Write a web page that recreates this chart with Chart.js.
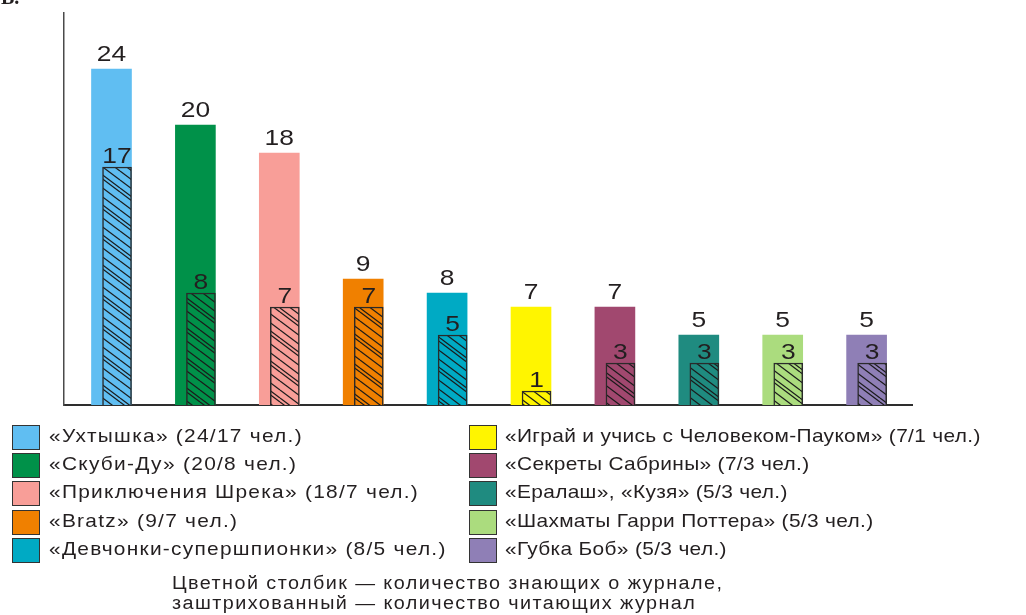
<!DOCTYPE html>
<html>
<head>
<meta charset="utf-8">
<script src="https://cdn.jsdelivr.net/npm/chart.js@4"></script>
<style>
  html, body { margin: 0; padding: 0; background: #fff; }
  #wrap { position: relative; width: 1026px; height: 615px; overflow: hidden; font-family: "Liberation Sans", Arial, sans-serif; color: #231f20; }
  #chart { position: absolute; left: 0; top: 0; }
  .corner { position: absolute; left: 1px; top: -14px; font: bold 20px/22px "Liberation Serif", serif; }
  .item { position: absolute; height: 25px; }
  .item .box { position: absolute; left: 0; top: 0; width: 28px; height: 25px; border: 1px solid #333; box-sizing: border-box; }
  .item .txt { position: absolute; top: -2px; white-space: nowrap; font-size: 19px; line-height: 25px; transform: scaleX(1.1); transform-origin: 0 0; }
  .note { position: absolute; left: 172px; top: 573px; font-size: 18px; line-height: 20px; letter-spacing: 1.3px; transform: scaleX(1.1); transform-origin: 0 0; white-space: nowrap; }
</style>
</head>
<body>
<div id="wrap">
  <canvas id="chart" width="1026" height="615"></canvas>
  <div class="corner">В.</div>
  <div id="legend"></div>
  <div class="note">Цветной столбик — количество знающих о журнале,<br>заштрихованный — количество читающих журнал</div>
</div>
<script>
// shows and how many children know about the magazine / read it
const shows = ['«Ухтышка»', '«Скуби-Ду»', '«Приключения Шрека»', '«Bratz»', '«Девчонки-супершпионки»',
  '«Играй и учись с Человеком-Пауком»', '«Секреты Сабрины»', '«Ералаш», «Кузя»', '«Шахматы Гарри Поттера»', '«Губка Боб»'];
const knowing = [24, 20, 18, 9, 8, 7, 7, 5, 5, 5];
const reading = [17, 8, 7, 7, 5, 1, 3, 3, 3, 3];
const colors = ['#60bef2', '#009149', '#f89e98', '#f08000', '#00aac4',
  '#fff500', '#a1486f', '#1f8b80', '#abdc7e', '#8f7fb6'];

const HATCH_SHIFT = 0.066; // hatched bar sits to the right edge of the coloured one
const HATCH_OFFSETS = [0, 8, 12, 21];

function hatch(color) {
  const c = document.createElement('canvas');
  c.width = 40;
  c.height = 30;
  const g = c.getContext('2d');
  g.fillStyle = color;
  g.fillRect(0, 0, 40, 30);
  g.strokeStyle = '#1a1a1a';
  g.lineWidth = 1.2;
  HATCH_OFFSETS.forEach((o) => {
    for (const s of [-30, 0, 30]) {
      g.beginPath();
      g.moveTo(0, o + s);
      g.lineTo(40, o + s + 30);
      g.stroke();
    }
  });
  return g.createPattern(c, 'repeat');
}

const ctx = document.getElementById('chart').getContext('2d');

// numbers over the bars (the original font is a bit stretched)
const valueLabels = {
  id: 'valueLabels',
  afterDatasetsDraw(chart) {
    const c = chart.ctx;
    chart.data.datasets.forEach((ds, di) => {
      const gap = di === 0 ? 8 : 4;
      chart.getDatasetMeta(di).data.forEach((bar, i) => {
        c.save();
        c.font = '22px "Liberation Sans", Arial, sans-serif';
        c.fillStyle = '#231f20';
        c.textAlign = 'center';
        c.translate(bar.x, bar.y - gap);
        c.scale(1.2, 1);
        c.fillText(ds.data[i].y, 0, 0);
        c.restore();
      });
    });
  },
};

new Chart(ctx, {
  type: 'bar',
  data: {
    datasets: [
      {
        label: 'знают',
        data: knowing.map((v, i) => ({ x: i, y: v })),
        backgroundColor: colors,
        barThickness: 40,
        grouped: false,
        order: 2,
      },
      {
        label: 'читают',
        data: reading.map((v, i) => ({ x: i + HATCH_SHIFT, y: v })),
        backgroundColor: colors.map(hatch),
        borderColor: '#2a2a2a',
        borderWidth: 1.5,
        barThickness: 29,
        grouped: false,
        order: 1,
      },
    ],
  },
  options: {
    responsive: false,
    animation: false,
    layout: { padding: { left: 56, top: 13, right: 114, bottom: 202 } },
    scales: {
      x: {
        type: 'linear',
        offset: false,
        min: -0.566,
        max: 9.541,
        ticks: { display: false },
        grid: { display: false },
        border: { display: true, color: '#2e2e2e', width: 2 },
      },
      y: {
        min: 0,
        max: 28,
        ticks: { display: false },
        grid: { display: false },
        border: { display: true, color: '#4a4a4a', width: 1.5 },
      },
    },
    plugins: {
      legend: { display: false },
      tooltip: { enabled: false },
    },
  },
  plugins: [valueLabels],
});

// two column legend under the chart
const legend = document.getElementById('legend');
shows.forEach((name, i) => {
  const col = i < 5 ? 0 : 1;
  const row = i % 5;
  const item = document.createElement('div');
  item.className = 'item';
  item.style.left = (col ? 469 : 12) + 'px';
  item.style.top = (425 + row * 28.2) + 'px';
  item.innerHTML = '<div class="box" style="background:' + colors[i] + '"></div>' +
    '<div class="txt" style="left:' + (col ? 36 : 37) + 'px;letter-spacing:' + (col ? 0.3 : 1.15) + 'px">' +
    name + ' (' + knowing[i] + '/' + reading[i] + ' чел.)</div>';
  legend.appendChild(item);
});
</script>
</body>
</html>
